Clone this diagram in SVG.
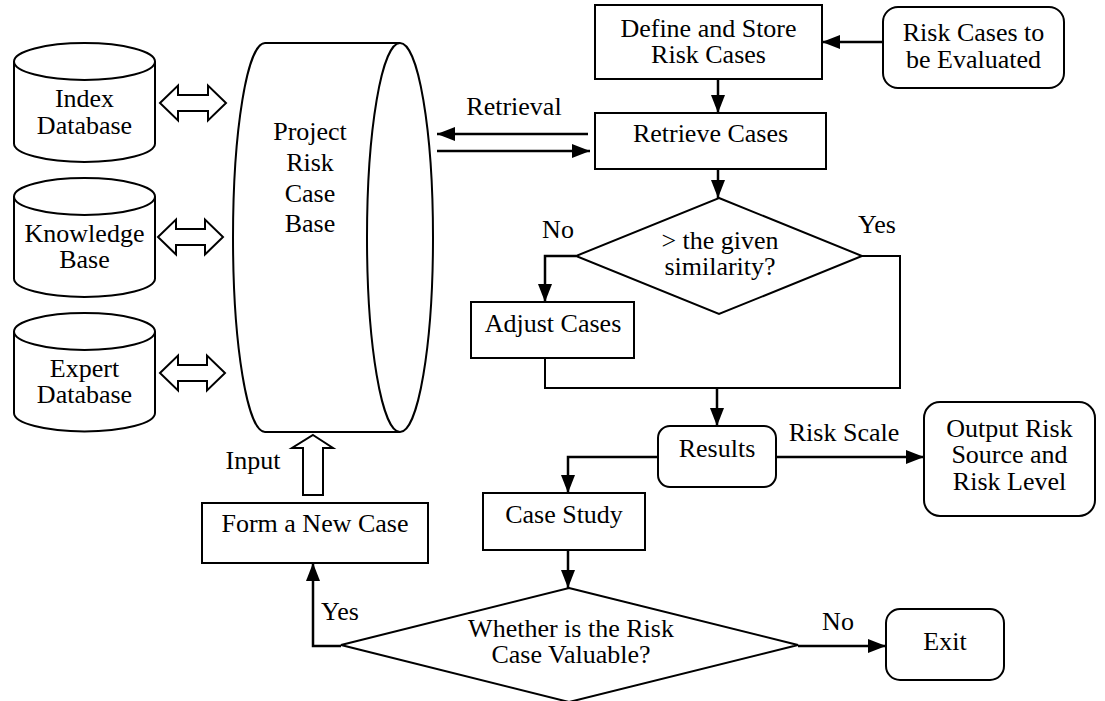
<svg xmlns="http://www.w3.org/2000/svg" width="1105" height="701" viewBox="0 0 1105 701" font-family="'Liberation Serif', 'Times New Roman', serif">
<style>
.bx{fill:#fff;stroke:#000;stroke-width:2}
.t{font-family:'Liberation Serif','Times New Roman',serif;font-size:26px;text-anchor:middle;fill:#000}
.ln{fill:none;stroke:#000;stroke-width:2}
.ar{fill:none;stroke:#000;stroke-width:2.5;marker-end:url(#ah)}
.ho{fill:#fff;stroke:#000;stroke-width:2;stroke-linejoin:miter}
</style>
<defs>
<marker id="ah" markerUnits="userSpaceOnUse" markerWidth="18" markerHeight="14" refX="18" refY="7" orient="auto">
<path d="M0,0 L18,7 L0,14 z" fill="#000"/>
</marker>
</defs>
<rect width="1105" height="701" fill="#fff"/>

<g id="index-db">
<path class="bx" d="M14,61.5 V143.5 A70.5,18.5 0 0 0 155,143.5 V61.5"/>
<ellipse class="bx" cx="84.5" cy="61.5" rx="70.5" ry="18.5"/>
<text class="t" x="84.5" y="107">Index</text>
<text class="t" x="84.5" y="134">Database</text>
</g>
<g id="knowledge-base">
<path class="bx" d="M14,196.5 V278.5 A70.5,18.5 0 0 0 155,278.5 V196.5"/>
<ellipse class="bx" cx="84.5" cy="196.5" rx="70.5" ry="18.5"/>
<text class="t" x="84.5" y="242">Knowledge</text>
<text class="t" x="84.5" y="268">Base</text>
</g>
<g id="expert-db">
<path class="bx" d="M14,331.5 V413 A70.5,18.5 0 0 0 155,413 V331.5"/>
<ellipse class="bx" cx="84.5" cy="331.5" rx="70.5" ry="18.5"/>
<text class="t" x="84.5" y="377">Expert</text>
<text class="t" x="84.5" y="403">Database</text>
</g>
<g id="case-base">
<path class="bx" d="M400,43 H265 A32,194.5 0 0 0 265,432 H400"/>
<ellipse class="bx" cx="400" cy="237.5" rx="33" ry="194.5"/>
<text class="t" x="310" y="140">Project</text>
<text class="t" x="310" y="171">Risk</text>
<text class="t" x="310" y="202">Case</text>
<text class="t" x="310" y="232">Base</text>
</g>
<g id="define">
<rect class="bx" x="595" y="5" width="227" height="74"/>
<text class="t" x="708.5" y="37">Define and Store</text>
<text class="t" x="708.5" y="63">Risk Cases</text>
</g>
<g id="to-evaluate">
<rect class="bx" x="883" y="7" width="181" height="81" rx="15"/>
<text class="t" x="973.5" y="41">Risk Cases to</text>
<text class="t" x="973.5" y="68">be Evaluated</text>
</g>
<g id="retrieve">
<rect class="bx" x="595" y="113" width="231" height="56"/>
<text class="t" x="710.5" y="142">Retrieve Cases</text>
</g>
<g id="similarity">
<polygon class="bx" points="719,198 862,256 719,314 576,256"/>
<text class="t" x="720" y="249">&gt; the given</text>
<text class="t" x="720" y="275">similarity?</text>
</g>
<g id="adjust">
<rect class="bx" x="471" y="302" width="163" height="56"/>
<text class="t" x="553" y="332">Adjust Cases</text>
</g>
<g id="results">
<rect class="bx" x="658" y="426" width="118" height="61" rx="12"/>
<text class="t" x="717" y="457">Results</text>
</g>
<g id="output">
<rect class="bx" x="924" y="402" width="171" height="114" rx="16"/>
<text class="t" x="1009.5" y="437">Output Risk</text>
<text class="t" x="1009.5" y="463">Source and</text>
<text class="t" x="1009.5" y="490">Risk Level</text>
</g>
<g id="case-study">
<rect class="bx" x="483" y="493" width="162" height="57"/>
<text class="t" x="564" y="523">Case Study</text>
</g>
<g id="valuable">
<polygon class="bx" points="569,588 798,645 569,702 341,645"/>
<text class="t" x="571" y="637">Whether is the Risk</text>
<text class="t" x="571" y="663">Case Valuable?</text>
</g>
<g id="exit">
<rect class="bx" x="886" y="609" width="118" height="71" rx="14"/>
<text class="t" x="945" y="650">Exit</text>
</g>
<g id="new-case">
<rect class="bx" x="202" y="503" width="226" height="60"/>
<text class="t" x="315" y="532">Form a New Case</text>
</g>

<g id="connectors">
<polygon class="ho" points="160,103 178,85.5 178,95 208,95 208,85.5 226,103 208,120.5 208,111 178,111 178,120.5"/>
<polygon class="ho" points="158,237 176,219.5 176,229 205,229 205,219.5 223,237 205,254.5 205,245 176,245 176,254.5"/>
<polygon class="ho" points="160,373 178,355.5 178,365 207,365 207,355.5 225,373 207,390.5 207,381 178,381 178,390.5"/>
<polygon class="ho" points="313,435 333,448 323,448 323,495 303,495 303,448 292,448"/>
<path class="ar" d="M883,42 H822"/>
<path class="ar" d="M718,79 V113"/>
<path class="ar" d="M588,134 H437"/>
<path class="ar" d="M437,151 H590"/>
<path class="ar" d="M718,169 V198"/>
<path class="ar" d="M576,256 H545 V302"/>
<path class="ln" d="M862,256 H900 V388 H545 V358"/>
<path class="ar" d="M717,388 V426"/>
<path class="ar" d="M776,457 H924"/>
<path class="ar" d="M658,457 H568 V493"/>
<path class="ar" d="M568,550 V588"/>
<path class="ar" d="M798,646 H886"/>
<path class="ar" d="M341,646 H313 V563"/>
<text class="t" x="514" y="115">Retrieval</text>
<text class="t" x="558" y="238">No</text>
<text class="t" x="877" y="233">Yes</text>
<text class="t" x="844" y="441">Risk Scale</text>
<text class="t" x="253" y="469">Input</text>
<text class="t" x="340" y="620">Yes</text>
<text class="t" x="838" y="630">No</text>
</g>
</svg>
